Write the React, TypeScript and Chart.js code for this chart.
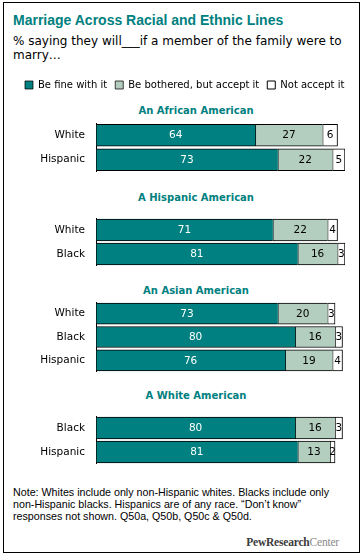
import React, { useEffect, useRef } from 'react';
import { Chart, registerables } from 'chart.js';

Chart.register(...registerables);

// ---- Data ----
const legendLabels = ['Be fine with it', 'Be bothered, but accept it', 'Not accept it'];
const groupTitles = ['An African American', 'A Hispanic American', 'An Asian American', 'A White American'];
const groupCategories = [
  ['White', 'Hispanic'],
  ['White', 'Black'],
  ['White', 'Black', 'Hispanic'],
  ['Black', 'Hispanic'],
];
const fineValues = [[64, 73], [71, 81], [73, 80, 76], [80, 81]];
const botheredValues = [[27, 22], [22, 16], [20, 16, 19], [16, 13]];
const notAcceptValues = [[6, 5], [4, 3], [3, 3, 4], [3, 2]];

// ---- Styles ----
const TEAL = '#008080';
const SAGE = '#b3cdbe';
const SANS = '"DejaVu Sans", sans-serif';
const ARIAL = '"Liberation Sans", Arial, sans-serif';

const groupLayout = [
  { top: 72, height: 100, legend: true, thick: 22, titleTop: 104.8 },
  { top: 218, height: 48, legend: false, thick: 22, titleTop: 191.5 },
  { top: 302, height: 70, legend: false, thick: 21, titleTop: 284.5 },
  { top: 416, height: 48, legend: false, thick: 22, titleTop: 389.5 },
];

const valueLabels = {
  id: 'valueLabels',
  afterDatasetsDraw(chart: any) {
    const ctx = chart.ctx;
    ctx.save();
    ctx.font = `10.5px ${SANS}`;
    ctx.textAlign = 'center';
    ctx.textBaseline = 'middle';
    chart.data.datasets.forEach((ds: any, di: number) => {
      const meta = chart.getDatasetMeta(di);
      meta.data.forEach((bar: any, i: number) => {
        const { x, base, y } = bar.getProps(['x', 'base', 'y'], true);
        ctx.fillStyle = di === 0 ? '#ffffff' : '#000000';
        ctx.fillText(String(ds.data[i]), (x + base) / 2, y + 0.5);
      });
    });
    ctx.restore();
  },
};

function GroupChart({ gi }: { gi: number }) {
  const ref = useRef<HTMLCanvasElement>(null);
  const lay = groupLayout[gi];
  useEffect(() => {
    const openRight = { top: 1, bottom: 1, left: 1, right: 0 };
    const scales: any = {
      x: { stacked: true, min: 0, max: 100, display: false },
      y: {
        stacked: true,
        grid: { display: false, drawTicks: false },
        border: { display: true, color: '#000', width: 1 },
        ticks: { color: '#000', padding: 11, font: { family: SANS, size: 10.5 } },
        afterFit: (s: any) => {
          s.width = lay.legend ? 79 : 96;
          s.paddingTop = 0;
          s.paddingBottom = 0;
        },
      },
    };
    if (lay.legend) {
      scales.y2 = {
        type: 'category',
        position: 'right',
        display: true,
        grid: { display: false, drawTicks: false },
        border: { display: false },
        ticks: { display: false },
        afterFit: (s: any) => {
          s.width = 17;
          s.paddingTop = 0;
          s.paddingBottom = 0;
        },
      };
    }
    const chart = new Chart(ref.current as HTMLCanvasElement, {
      type: 'bar',
      data: {
        labels: groupCategories[gi],
        datasets: [
          {
            label: legendLabels[0],
            data: fineValues[gi],
            backgroundColor: TEAL,
            borderColor: '#000',
            borderWidth: openRight,
            borderSkipped: false,
            barThickness: lay.thick,
          },
          {
            label: legendLabels[1],
            data: botheredValues[gi],
            backgroundColor: SAGE,
            borderColor: '#000',
            borderWidth: openRight,
            borderSkipped: false,
            barThickness: lay.thick,
          },
          {
            label: legendLabels[2],
            data: notAcceptValues[gi],
            backgroundColor: '#ffffff',
            borderColor: '#000',
            borderWidth: 1,
            borderSkipped: false,
            barThickness: lay.thick,
          },
        ],
      } as any,
      options: {
        indexAxis: 'y',
        responsive: false,
        animation: false,
        events: [],
        layout: { padding: { left: lay.legend ? 17 : 0, right: lay.legend ? 0 : 17, top: 0, bottom: 0 } },
        scales,
        plugins: {
          legend: {
            display: lay.legend,
            align: 'start',
            labels: {
              boxWidth: 8,
              boxHeight: 8,
              padding: 8,
              color: '#000',
              font: { family: SANS, size: 10 },
            },
          },
          title: {
            display: lay.legend,
            text: '',
            weight: 100,
            padding: { top: 0, bottom: 11 },
            font: { size: 10, lineHeight: 1.2 },
          },
          tooltip: { enabled: false },
        },
      } as any,
      plugins: [valueLabels],
    });
    return () => chart.destroy();
  }, [gi]);
  return (
    <canvas
      ref={ref}
      width={362}
      height={lay.height}
      style={{ position: 'absolute', left: 0, top: lay.top, width: 362, height: lay.height }}
    />
  );
}

export default function App() {
  return (
    <div
      style={{
        position: 'absolute',
        left: 0,
        top: 0,
        width: 362,
        height: 556,
        overflow: 'hidden',
        background: '#fff',
      }}
    >
      <div
        style={{
          position: 'absolute',
          left: 3,
          top: 2,
          width: 357,
          height: 551,
          boxSizing: 'border-box',
          border: '1px solid #000',
        }}
      />
      <div
        style={{
          position: 'absolute',
          left: 13,
          top: 12,
          font: `bold 14px/17px ${ARIAL}`,
          color: TEAL,
          whiteSpace: 'nowrap',
        }}
      >
        Marriage Across Racial and Ethnic Lines
      </div>
      <div
        style={{
          position: 'absolute',
          left: 13,
          top: 33.6,
          font: `12px/14.5px ${SANS}`,
          color: '#000',
          whiteSpace: 'nowrap',
        }}
      >
        % saying they will___if a member of the family were to
        <br />
        marry…
      </div>
      {groupTitles.map((t, i) => (
        <div
          key={t}
          style={{
            position: 'absolute',
            left: 30,
            width: 332,
            top: groupLayout[i].titleTop,
            textAlign: 'center',
            font: `bold 10px/12px ${SANS}`,
            color: TEAL,
            whiteSpace: 'nowrap',
          }}
        >
          {t}
        </div>
      ))}
      {groupTitles.map((t, i) => (
        <GroupChart key={'c' + t} gi={i} />
      ))}
      <div
        style={{
          position: 'absolute',
          left: 13,
          top: 485.6,
          font: `10.7px/12.3px ${ARIAL}`,
          color: '#000',
          whiteSpace: 'nowrap',
        }}
      >
        Note: Whites include only non-Hispanic whites. Blacks include only
        <br />
        non-Hispanic blacks. Hispanics are of any race. “Don’t know”
        <br />
        responses not shown. Q50a, Q50b, Q50c &amp; Q50d.
      </div>
      <div
        style={{
          position: 'absolute',
          right: 23,
          top: 536.1,
          font: `11.5px/13px "Liberation Serif", serif`,
          whiteSpace: 'nowrap',
          letterSpacing: '-0.2px',
        }}
      >
        <span style={{ color: '#3a3a3a', fontWeight: 'bold' }}>PewResearch</span>
        <span style={{ color: '#8a8a8a' }}>Center</span>
      </div>
    </div>
  );
}
